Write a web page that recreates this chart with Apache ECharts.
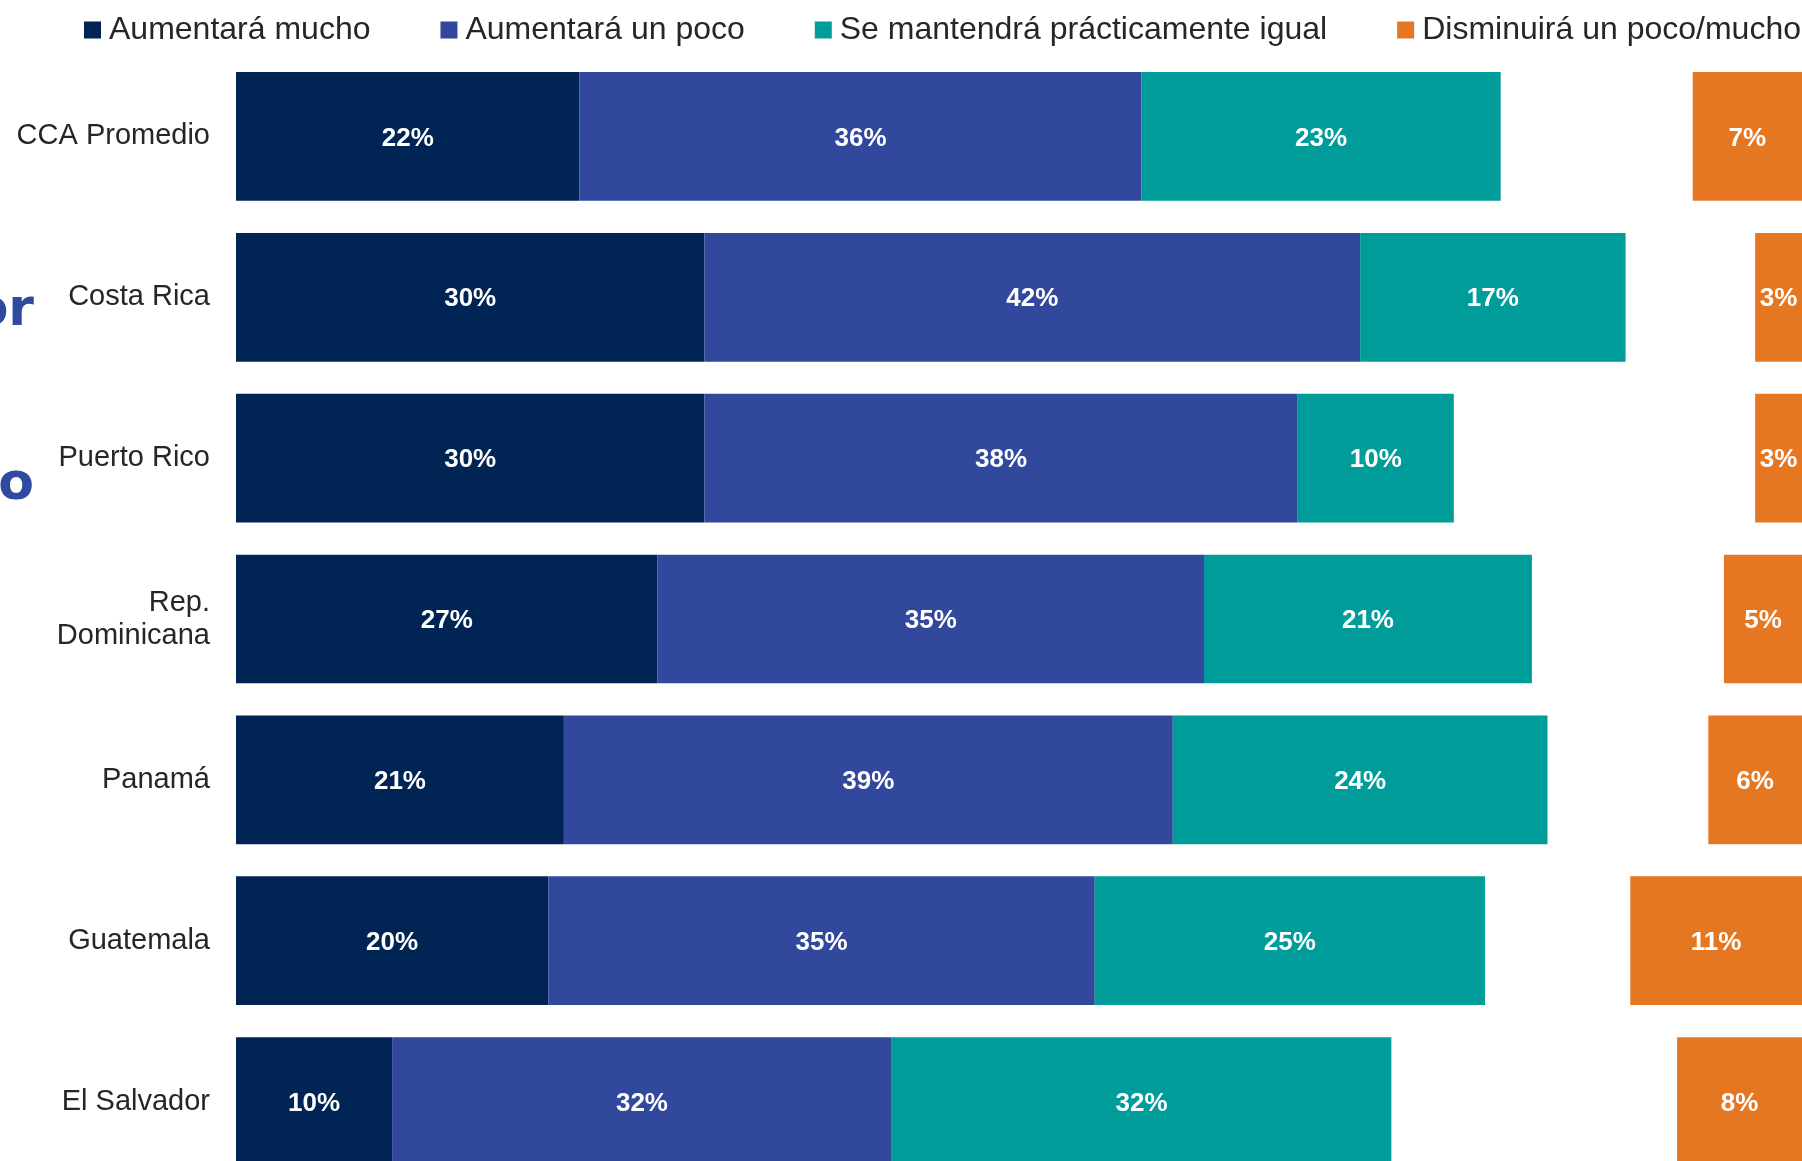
<!DOCTYPE html>
<html>
<head>
<meta charset="utf-8">
<script src="https://cdn.jsdelivr.net/npm/echarts@6/dist/echarts.min.js"></script>
<style>
  html, body { margin: 0; padding: 0; background: #fff; }
  #chart { width: 1802px; height: 1161px; }
</style>
</head>
<body>
<div id="chart"></div>
<script>
const countries = ['CCA Promedio', 'Costa Rica', 'Puerto Rico', 'Rep.\nDominicana', 'Panamá', 'Guatemala', 'El Salvador']
const seriesNames = ['Aumentará mucho', 'Aumentará un poco', 'Se mantendrá prácticamente igual', 'Disminuirá un poco/mucho']
const aumentaMucho = [22, 30, 30, 27, 21, 20, 10]
const aumentaPoco = [36, 42, 38, 35, 39, 35, 32]
const igual = [23, 17, 10, 21, 24, 25, 32]
const disminuye = [7, 3, 3, 5, 6, 11, 8]
const colors = ['#002454', '#31489c', '#009c9a', '#e67722']

const chart = echarts.init(document.getElementById('chart'))
const font = '"Liberation Sans", Arial, sans-serif'

const barLabel = {
  show: true,
  position: 'inside',
  offset: [0, 2],
  color: '#fff',
  fontWeight: 'bold',
  fontSize: 26,
  fontFamily: font,
  formatter: '{c}%'
}

const makeBar = (name, data, color, axis, stack) => ({
  name,
  type: 'bar',
  stack,
  xAxisIndex: axis,
  data,
  barCategoryGap: '20%',
  barGap: '-100%',
  itemStyle: { color },
  label: barLabel
})

chart.setOption({
  animation: false,
  color: colors,
  legend: {
    data: seriesNames,
    left: 84,
    top: 14,
    width: 2000,
    padding: 0,
    itemWidth: 17,
    itemHeight: 17,
    itemGap: 70,
    icon: 'rect',
    textStyle: {
      fontSize: 32,
      color: '#262626',
      fontFamily: font,
      padding: [0, 0, 0, 3]
    }
  },
  grid: {
    left: 236,
    right: 0,
    top: 56,
    height: 1126,
    outerBoundsMode: 'none'
  },
  xAxis: [
    { type: 'value', min: 0, max: 100.3, show: false },
    { type: 'value', min: 0, max: 100.3, inverse: true, show: false }
  ],
  yAxis: {
    type: 'category',
    data: countries,
    inverse: true,
    axisLine: { show: false },
    axisTick: { show: false },
    axisLabel: {
      margin: 26,
      fontSize: 29,
      lineHeight: 33,
      color: '#262626',
      fontFamily: font,
      align: 'right'
    }
  },
  graphic: [
    {
      type: 'text',
      x: 34,
      y: 311,
      style: {
        text: 'or',
        align: 'right',
        verticalAlign: 'middle',
        fontSize: 52,
        fontWeight: 'bold',
        fontFamily: '"DejaVu Sans", sans-serif',
        fill: '#2f4a9e'
      }
    },
    {
      type: 'text',
      x: 34,
      y: 485,
      style: {
        text: 'o',
        align: 'right',
        verticalAlign: 'middle',
        fontSize: 52,
        fontWeight: 'bold',
        fontFamily: '"DejaVu Sans", sans-serif',
        fill: '#2f4a9e'
      }
    }
  ],
  series: [
    makeBar(seriesNames[0], aumentaMucho, colors[0], 0, 'sube'),
    makeBar(seriesNames[1], aumentaPoco, colors[1], 0, 'sube'),
    makeBar(seriesNames[2], igual, colors[2], 0, 'sube'),
    makeBar(seriesNames[3], disminuye, colors[3], 1, 'baja')
  ]
})
</script>
</body>
</html>
